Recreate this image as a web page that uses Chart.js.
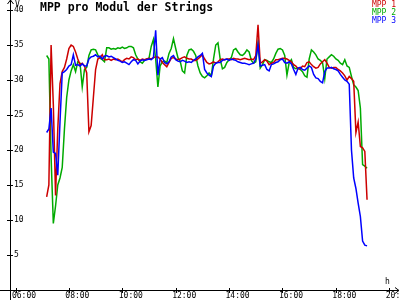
<!DOCTYPE html>
<html>
<head>
<meta charset="utf-8">
<title>MPP pro Modul der Strings</title>
<script src="https://cdn.jsdelivr.net/npm/chart.js@4.4.1/dist/chart.umd.min.js"></script>
<style>
  html, body { margin: 0; padding: 0; background: #fff; }
  #chart { display: block; }
</style>
</head>
<body>
<canvas id="chart" width="400" height="300"></canvas>
<script>
// Sample times (every 5 minutes)
const times = [
  '07:10','07:15','07:20','07:25','07:30','07:35','07:40','07:45','07:50','07:55','08:00','08:05',
  '08:10','08:15','08:20','08:25','08:30','08:35','08:40','08:45','08:50','08:55','09:00','09:05',
  '09:10','09:15','09:20','09:25','09:30','09:35','09:40','09:45','09:50','09:55','10:00','10:05',
  '10:10','10:15','10:20','10:25','10:30','10:35','10:40','10:45','10:50','10:55','11:00','11:05',
  '11:10','11:15','11:20','11:25','11:30','11:35','11:40','11:45','11:50','11:55','12:00','12:05',
  '12:10','12:15','12:20','12:25','12:30','12:35','12:40','12:45','12:50','12:55','13:00','13:05',
  '13:10','13:15','13:20','13:25','13:30','13:35','13:40','13:45','13:50','13:55','14:00','14:05',
  '14:10','14:15','14:20','14:25','14:30','14:35','14:40','14:45','14:50','14:55','15:00','15:05',
  '15:10','15:15','15:20','15:25','15:30','15:35','15:40','15:45','15:50','15:55','16:00','16:05',
  '16:10','16:15','16:20','16:25','16:30','16:35','16:40','16:45','16:50','16:55','17:00','17:05',
  '17:10','17:15','17:20','17:25','17:30','17:35','17:40','17:45','17:50','17:55','18:00','18:05',
  '18:10','18:15','18:20','18:25','18:30','18:35','18:40','18:45','18:50','18:55','19:00','19:05',
  '19:10'
];

// Voltage per module (V)
const mpp1 = [
  13.3, 15.0, 35.0, 26.5, 13.5, 23.0, 29.5, 31.2, 31.8, 33.0, 34.5, 35.0,
  34.8, 34.0, 33.0, 32.2, 32.4, 32.0, 31.0, 22.6, 23.5, 27.5, 31.5, 33.0,
  33.2, 33.6, 32.9, 32.9, 33.0, 32.8, 33.0, 32.9, 33.0, 32.8, 32.6, 32.9,
  33.1, 33.0, 33.3, 33.2, 32.9, 33.0, 32.8, 33.0, 32.9, 33.0, 33.1, 33.0,
  33.2, 33.3, 33.3, 33.0, 32.5, 32.2, 31.9, 32.5, 33.1, 33.2, 33.0, 32.9,
  33.0, 33.2, 33.3, 33.1, 33.0, 33.0, 32.8, 32.8, 33.0, 33.3, 33.6, 33.0,
  32.5, 32.3, 32.4, 32.6, 32.4, 32.6, 32.9, 33.0, 32.9, 33.0, 33.0, 32.9,
  33.1, 33.0, 33.0, 32.9, 33.0, 33.1, 33.0, 32.9, 33.0, 32.9, 33.5, 37.9,
  32.4, 32.6, 32.9, 32.7, 32.2, 32.4, 32.5, 32.9, 32.9, 33.0, 33.1, 33.1,
  33.0, 32.8, 32.6, 32.2, 32.0, 31.6, 31.6, 32.0, 31.9, 32.5, 32.6, 32.2,
  31.9, 31.7, 31.8, 32.3, 32.6, 32.9, 32.4, 31.8, 31.7, 31.8, 31.8, 31.5,
  31.3, 31.0, 30.6, 30.0, 30.5, 30.2, 29.8, 22.5, 24.0, 20.5, 20.3, 19.8,
  12.9
];

const mpp2 = [
  33.5, 33.0, 19.0, 9.5, 12.0, 15.0, 16.0, 17.5, 23.0, 27.5, 30.0, 31.3,
  32.2, 31.2, 32.6, 32.4, 29.0, 31.5, 31.8, 33.5, 34.3, 34.4, 34.3, 33.6,
  33.1, 32.9, 32.6, 34.6, 34.6, 34.4, 34.5, 34.4, 34.6, 34.5, 34.7, 34.5,
  34.6, 34.8, 34.8, 34.6, 33.6, 33.0, 32.6, 32.4, 32.8, 33.0, 33.1, 34.8,
  35.8, 33.0, 29.0, 32.0, 32.6, 32.7, 32.5, 33.8, 34.5, 35.9, 34.5, 33.2,
  32.7, 31.3, 31.0, 33.5, 34.3, 34.4, 34.1, 33.5, 32.0, 31.0, 30.5, 30.3,
  30.6, 31.0, 30.6, 33.0, 35.0, 35.3, 33.0, 31.6, 31.8, 32.5, 32.9, 33.2,
  34.3, 34.5, 34.0, 33.6, 33.5, 33.8, 34.3, 34.0, 32.8, 32.4, 32.6, 35.3,
  31.7, 32.2, 32.9, 32.8, 32.6, 32.5, 33.0, 33.8, 34.4, 34.5, 34.3, 33.5,
  30.7, 32.5, 32.9, 31.8, 31.6, 31.7, 31.5, 31.2, 30.6, 30.4, 33.0, 34.3,
  34.0, 33.6, 33.0, 32.8, 32.5, 30.2, 33.0, 33.3, 33.6, 33.4, 33.0, 32.8,
  32.4, 32.2, 32.9, 32.0, 31.8, 30.5, 29.3, 29.0, 28.5, 26.0, 17.9, 17.7,
  17.4
];

const mpp3 = [
  22.5, 23.0, 26.0, 19.7, 19.5, 16.4, 24.0, 31.0, 31.2, 31.5, 32.0, 32.2,
  33.6, 32.1, 32.2, 32.0, 32.3, 32.0, 32.0, 33.0, 33.3, 33.4, 33.6, 33.3,
  33.4, 33.0, 33.4, 33.5, 33.3, 33.4, 33.2, 33.0, 32.8, 32.7, 32.5, 32.6,
  32.4, 32.2, 32.6, 32.9, 32.8, 32.3, 32.7, 32.9, 32.8, 32.9, 33.0, 32.9,
  33.2, 37.1, 30.7, 33.0, 33.2, 32.5, 32.3, 32.6, 33.3, 33.5, 32.9, 32.7,
  32.6, 32.8, 32.7, 32.5, 32.6, 32.5, 32.8, 33.0, 33.3, 33.5, 33.8, 31.5,
  31.0, 30.7, 30.5, 32.0, 32.4, 32.5, 32.5, 32.8, 32.9, 33.0, 32.8, 33.0,
  32.9, 32.8, 32.6, 32.5, 32.4, 32.4, 32.3, 32.2, 32.3, 32.4, 33.0, 35.0,
  32.0, 32.1, 32.2, 31.5, 31.3, 32.2, 32.3, 32.5, 32.6, 32.9, 33.0, 32.5,
  32.4, 32.6, 32.3, 31.5, 30.8, 31.7, 31.8, 31.5, 31.4, 31.7, 32.0, 31.8,
  30.8, 30.3, 30.2, 29.8, 29.6, 31.2, 31.7, 31.7, 31.8, 31.6, 31.5, 31.3,
  30.8, 30.4, 30.0, 29.8, 29.4, 20.0, 16.0, 14.5, 12.4, 10.5, 7.0, 6.4,
  6.3
];

const seriesLabels = ['MPP 1', 'MPP 2', 'MPP 3'];
const seriesColors = ['#cc0000', '#00aa00', '#0000ff'];

// Axis ticks
const xTicks = [6, 8, 10, 12, 14, 16, 18, 20];
const yTicks = [5, 10, 15, 20, 25, 30, 35, 40];

const titleText = 'MPP pro Modul der Strings';
const monoFont = '"DejaVu Sans Mono", "Liberation Mono", monospace';

function toHours(t) {
  const [h, m] = t.split(':').map(Number);
  return h + m / 60;
}

function hourLabel(v) {
  return String(Math.round(v)).padStart(2, '0') + ':00';
}

function makeSeries(values) {
  return values.map((v, i) => ({ x: toHours(times[i]), y: v }));
}

// Axis crossings, tick marks, arrows, title, legend and unit labels
const decorPlugin = {
  id: 'decor',
  afterDraw(chart) {
    const { ctx, chartArea: a, scales } = chart;
    const xs = scales.x, ys = scales.y;
    const bx = a.left + 0.5, by = a.bottom + 0.5;

    ctx.save();
    ctx.strokeStyle = '#000';
    ctx.lineWidth = 1;
    ctx.beginPath();
    // axes run past the origin
    ctx.moveTo(0, by); ctx.lineTo(a.left, by);
    ctx.moveTo(bx, a.bottom); ctx.lineTo(bx, chart.height);
    // tick marks across the axes
    xs.ticks.forEach(t => {
      const px = Math.round(xs.getPixelForValue(t.value)) + 0.5;
      ctx.moveTo(px, a.bottom - 2); ctx.lineTo(px, a.bottom + 3);
    });
    ys.ticks.forEach(t => {
      const py = Math.round(ys.getPixelForValue(t.value)) + 0.5;
      ctx.moveTo(a.left - 3, py); ctx.lineTo(a.left + 3, py);
    });
    // arrow heads
    ctx.moveTo(bx - 3, 4); ctx.lineTo(bx, 0); ctx.lineTo(bx + 3, 4);
    ctx.moveTo(a.right - 3, by - 3); ctx.lineTo(a.right + 1, by); ctx.lineTo(a.right - 3, by + 3);
    ctx.stroke();

    // title
    ctx.fillStyle = '#000';
    ctx.textBaseline = 'alphabetic';
    ctx.textAlign = 'left';
    ctx.font = 'bold 11.5px ' + monoFont;
    ctx.fillText(titleText, 40, 11);

    // unit labels
    ctx.font = '8px ' + monoFont;
    ctx.fillText('V', 15, 7);
    ctx.fillText('h', 385, 284);

    // legend
    ctx.textAlign = 'right';
    chart.data.datasets.forEach((ds, i) => {
      ctx.fillStyle = ds.borderColor;
      ctx.fillText(ds.label, 396, 7 + i * 8);
    });
    ctx.restore();
  }
};

const ctx = document.getElementById('chart').getContext('2d');

new Chart(ctx, {
  type: 'line',
  data: {
    datasets: [mpp1, mpp2, mpp3].map((vals, i) => ({
      label: seriesLabels[i],
      data: makeSeries(vals),
      borderColor: seriesColors[i],
      backgroundColor: seriesColors[i],
      borderWidth: 1.5,
      pointRadius: 0,
      tension: 0,
      fill: false,
      order: [1, 2, 0][i]
    }))
  },
  options: {
    responsive: false,
    animation: false,
    events: [],
    layout: { padding: { top: 0, right: 2, bottom: 0, left: 0 } },
    plugins: {
      legend: { display: false },
      title: { display: false },
      tooltip: { enabled: false }
    },
    scales: {
      x: {
        type: 'linear',
        min: 5.794,
        max: 20.326,
        grid: { display: false, drawTicks: false },
        border: { display: true, color: '#000', width: 1 },
        ticks: {
          color: '#000',
          font: { family: monoFont, size: 8 },
          padding: 1,
          labelOffset: 8.5,
          autoSkip: false,
          maxRotation: 0,
          callback: v => hourLabel(v)
        },
        afterBuildTicks: s => { s.ticks = xTicks.map(v => ({ value: v })); },
        afterFit: s => { s.height = 10; s.paddingLeft = 0; s.paddingRight = 0; }
      },
      y: {
        min: 0,
        max: 290 / 7,
        grid: { display: false, drawTicks: false },
        border: { display: true, color: '#000', width: 1 },
        ticks: {
          color: '#000',
          font: { family: monoFont, size: 8 },
          mirror: true,
          padding: 4,
          callback: v => String(v)
        },
        afterBuildTicks: s => { s.ticks = yTicks.map(v => ({ value: v })); },
        afterFit: s => { s.width = 10; s.paddingTop = 0; s.paddingBottom = 0; }
      }
    }
  },
  plugins: [decorPlugin]
});
</script>
</body>
</html>
